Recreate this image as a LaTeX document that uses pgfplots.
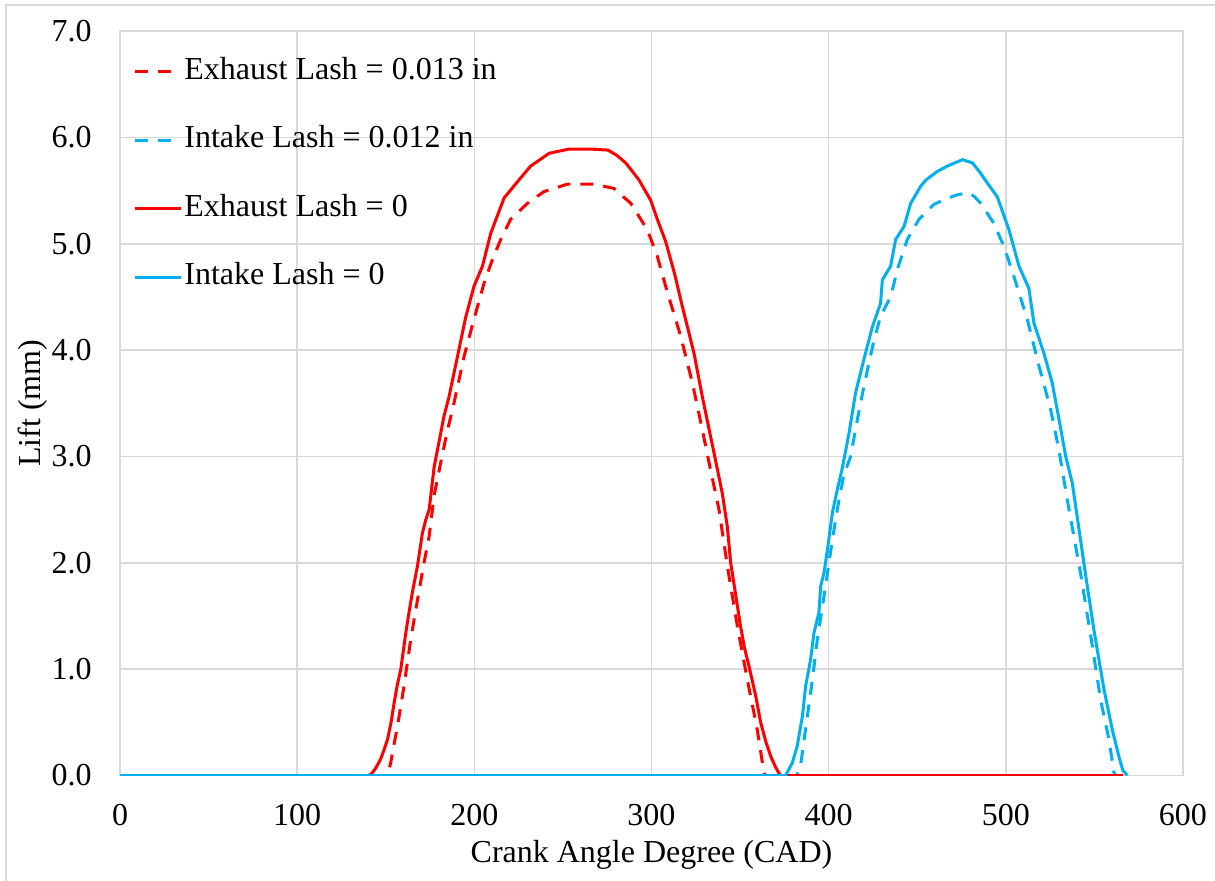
\documentclass[border=0pt]{standalone}
\usepackage{pgfplots}
\pgfplotsset{compat=1.18}
\usepackage{fontspec}
\setmainfont{Liberation Serif}
\definecolor{exred}{RGB}{255,0,0}
\definecolor{inblue}{RGB}{0,176,240}
\definecolor{gridgray}{RGB}{217,217,217}
\begin{document}
\begin{tikzpicture}
\path[use as bounding box] (0,0) rectangle (607.5pt,440pt);
\draw[gridgray, line width=1pt] (3pt,-10pt) -- (3pt,437.5pt) -- (620pt,437.5pt);
\begin{axis}[
  at={(60pt,52.25pt)}, anchor=south west,
  scale only axis,
  width=531.5pt, height=372.25pt,
  xmin=0, xmax=600, ymin=0, ymax=7,
  xtick={0,100,...,600}, ytick={0,1,...,7},
  grid=major, major grid style={gridgray, line width=0.8pt},
  axis line style={gridgray, line width=0.8pt},
  tick style={draw=none},
  /pgf/number format/assume math mode=true,
  ticklabel style={font=\fontsize{16}{19}\selectfont},
  y tick label style={/pgf/number format/.cd, fixed, fixed zerofill, precision=1, /tikz/.cd},
  xticklabel style={inner sep=0pt, anchor=north, yshift=-14pt},
  yticklabel style={inner sep=0pt, anchor=east, xshift=-14pt},
  xlabel={Crank Angle Degree (CAD)},
  ylabel={Lift (mm)},
  xlabel style={at={(axis description cs:0.5,-0.1068)}, anchor=center, font=\fontsize{16}{19}\selectfont},
  ylabel style={at={(axis description cs:-0.0818,0.5)}, anchor=center, font=\fontsize{16}{19}\selectfont},
  legend cell align=left,
  legend image code/.code={\draw[#1] (0pt,0pt) -- (23pt,0pt);},
  legend style={at={(axis description cs:0,1)}, anchor=north west, xshift=6.5pt, yshift=-13pt,
    draw=none, fill=none, inner sep=0pt, row sep=19.75pt, column sep=1pt,
    font=\fontsize{16}{19}\selectfont,
    nodes={inner sep=0pt, text height=11pt, text depth=3.5pt}},
]
\addplot[exred, line width=1.5pt, dash pattern=on 6.5pt off 5pt] coordinates {
(0,0) (151,0) (152.8,0.12) (154.5,0.28) (156.6,0.46) (160.3,0.84) (164.1,1.28)
(167.9,1.65) (171.6,2.0) (174.5,2.25) (177.3,2.63) (181,2.94) (184.5,3.22)
(188.5,3.5) (194.2,3.94) (199.8,4.29) (205.5,4.63) (210.2,4.85) (214.9,5.04)
(220.5,5.23) (230,5.38) (239.3,5.49) (252.5,5.56) (267.5,5.56) (278.8,5.52)
(288.3,5.38) (297.7,5.13) (303.3,4.88) (309,4.54) (316.5,4.13) (323.1,3.69)
(328.7,3.25) (332.5,2.94) (338.1,2.5) (342.8,1.97) (348.5,1.4) (354.1,0.9)
(359.7,0.43) (362.6,0.12) (364,0) (566,0)
};
\addlegendentry{Exhaust Lash = 0.013 in}
\addplot[inblue, line width=1.5pt, dash pattern=on 6.5pt off 5pt] coordinates {
(0,0) (382,0) (384.2,0.1) (386,0.32) (388,0.56) (390.8,0.9) (393.6,1.28)
(396.5,1.59) (399.3,1.9) (402.1,2.22) (405.8,2.59) (408.5,2.82) (412.4,3.0)
(416,3.33) (419.9,3.66) (425,4.05) (429.3,4.32) (435,4.5) (438.8,4.76)
(444.4,5.04) (451,5.23) (459.4,5.37) (466,5.42) (472.6,5.46) (479.2,5.48)
(482.5,5.44) (485.8,5.38) (493.3,5.19) (499,4.97) (504.6,4.69) (512.1,4.29)
(517.8,3.91) (525.3,3.44) (530,3.06) (534.7,2.59) (542.2,1.9) (548.8,1.22)
(553.5,0.71) (558.2,0.34) (561,0.03) (562,0)
};
\addlegendentry{Intake Lash = 0.012 in}
\addplot[exred, line width=1.5pt] coordinates {
(0,0) (140,0) (141.6,0.01) (144,0.06) (147,0.15) (149,0.24) (151,0.34)
(153,0.5) (154.7,0.68) (156.5,0.85) (158.5,1.0) (161.3,1.34) (163,1.52)
(165,1.72) (167.9,1.97) (170.7,2.28) (172.5,2.4) (174.5,2.5) (177.3,2.9)
(182.9,3.38) (185.7,3.56) (187.7,3.72) (190.5,3.94) (195,4.3) (199.8,4.6)
(204.6,4.79) (209.3,5.1) (216.8,5.43) (226.2,5.62) (231.8,5.73)
(242.2,5.85) (253.4,5.89) (265.7,5.89) (275.5,5.88) (280.5,5.83) (285.4,5.76)
(289.2,5.68) (292.9,5.6) (299.5,5.41) (303.5,5.22) (308,5.02) (313,4.72) (317.4,4.41)
(324,3.97) (328.7,3.56) (336.2,2.96) (340,2.65) (342.8,2.34) (344.7,2.0)
(347.5,1.7) (350.3,1.4) (352.5,1.2) (355,1.03) (358.8,0.75) (361.6,0.5)
(364.5,0.32) (367.3,0.18) (370,0.08) (372,0.02) (373,0) (566,0)
};
\addlegendentry{Exhaust Lash = 0}
\addplot[inblue, line width=1.5pt] coordinates {
(0,0) (375.7,0) (379.5,0.12) (382.3,0.28) (385.2,0.56) (387,0.84) (389.8,1.09)
(391.7,1.34) (394.5,1.53) (395.5,1.78) (397.3,1.9) (399.3,2.12) (402.1,2.47)
(404.9,2.69) (407.7,2.89) (411.5,3.22) (415.2,3.6) (420,3.92) (424.7,4.22)
(429.3,4.44) (430.3,4.66) (435,4.79) (437.8,5.04) (442.5,5.16) (446.3,5.38)
(451.9,5.54) (455,5.6) (461.3,5.68) (467,5.73) (475.5,5.79) (481.1,5.76)
(485,5.68) (489.6,5.57) (495.2,5.44) (501.8,5.13) (507.4,4.79) (513,4.58)
(515.9,4.25) (521.5,3.97) (526.2,3.69) (530,3.35) (533.8,3.0) (537.5,2.75)
(541,2.35) (544.9,1.9) (549.7,1.37) (555.4,0.81) (560.1,0.43) (563.8,0.18)
(566,0.05) (568.6,0)
};
\addlegendentry{Intake Lash = 0}
\end{axis}
\end{tikzpicture}
\end{document}
